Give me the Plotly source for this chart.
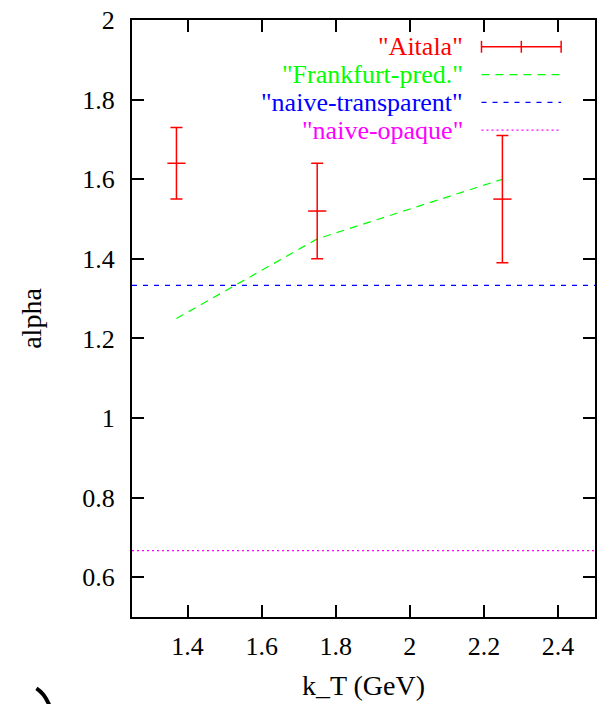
import plotly.graph_objects as go

# ---- data ----
aitala_x = [1.37, 1.75, 2.25]
aitala_y = [1.64, 1.52, 1.55]
aitala_err = [0.09, 0.12, 0.16]

frank_x = [1.37, 1.75, 2.25]
frank_y = [1.25, 1.45, 1.60]

x_range = [1.25, 2.5]
y_range = [0.5, 2.0]
naive_transparent = 4.0 / 3.0
naive_opaque = 2.0 / 3.0

x_ticks = [1.4, 1.6, 1.8, 2.0, 2.2, 2.4]
x_ticklabels = ["1.4", "1.6", "1.8", "2", "2.2", "2.4"]
y_ticks = [0.6, 0.8, 1.0, 1.2, 1.4, 1.6, 1.8, 2.0]
y_ticklabels = ["0.6", "0.8", "1", "1.2", "1.4", "1.6", "1.8", "2"]

legend_names = ['"Aitala"', '"Frankfurt-pred."', '"naive-transparent"', '"naive-opaque"']
RED, GREEN, BLUE, MAG = "#ff0000", "#00ff00", "#0000ff", "#ff00ff"
legend_colors = [RED, GREEN, BLUE, MAG]

FONT = "Liberation Serif"
FS = 26
FS_TICK = 26
FS_TITLE = 28

fig = go.Figure()

fig.add_trace(go.Scatter(
    x=frank_x, y=frank_y, mode="lines",
    line=dict(color=GREEN, width=1.2, dash="8px,6px"),
    showlegend=False, hoverinfo="skip"))
fig.add_trace(go.Scatter(
    x=x_range, y=[naive_transparent] * 2, mode="lines",
    line=dict(color=BLUE, width=1.2, dash="5px,6px"),
    showlegend=False, hoverinfo="skip"))
fig.add_trace(go.Scatter(
    x=x_range, y=[naive_opaque] * 2, mode="lines",
    line=dict(color=MAG, width=1.2, dash="2px,3px"),
    showlegend=False, hoverinfo="skip"))
fig.add_trace(go.Scatter(
    x=aitala_x, y=aitala_y, mode="markers",
    marker=dict(symbol="line-ew", size=13, line=dict(color=RED, width=1.5), color=RED),
    error_y=dict(type="data", array=aitala_err, visible=True, color=RED, thickness=1.5, width=6),
    showlegend=False, hoverinfo="skip"))

# ---- manual gnuplot-style legend ----
L, R, T, B = 132, 597, 15, 617
def px(x):
    return (x - L) / (R - L)
def py(y):
    return (B - y) / (B - T)

rows = [42, 70, 98, 126]
text_right = 466
s0, s1 = 483, 563
for name, col, yy in zip(legend_names, legend_colors, rows):
    fig.add_annotation(xref="paper", yref="paper", x=px(text_right), y=py(yy),
                       text=name, showarrow=False, xanchor="right", yanchor="middle",
                       font=dict(family=FONT, size=FS, color=col))
# Aitala sample
fig.add_shape(type="line", xref="paper", yref="paper", x0=px(s0), x1=px(s1), y0=py(42), y1=py(42),
              line=dict(color=RED, width=1.5))
for xx in (s0, s1):
    fig.add_shape(type="line", xref="paper", yref="paper", x0=px(xx), x1=px(xx), y0=py(36), y1=py(48),
                  line=dict(color=RED, width=1.5))
fig.add_shape(type="line", xref="paper", yref="paper", x0=px(523), x1=px(523), y0=py(36), y1=py(48),
              line=dict(color=RED, width=1.5))
fig.add_shape(type="line", xref="paper", yref="paper", x0=px(s0), x1=px(s1), y0=py(70), y1=py(70),
              line=dict(color=GREEN, width=1.2, dash="8px,6px"))
fig.add_shape(type="line", xref="paper", yref="paper", x0=px(s0), x1=px(s1), y0=py(98), y1=py(98),
              line=dict(color=BLUE, width=1.2, dash="5px,6px"))
fig.add_shape(type="line", xref="paper", yref="paper", x0=px(s0), x1=px(s1), y0=py(126), y1=py(126),
              line=dict(color=MAG, width=1.2, dash="2px,3px"))

# stray glyph fragment at bottom-left
fig.add_shape(type="path", xref="paper", yref="paper",
              path=f"M {px(36)},{py(689)} Q {px(44)},{py(694)} {px(49)},{py(706)}",
              line=dict(color="black", width=4))

axis_common = dict(showline=True, linecolor="black", linewidth=2, mirror="ticks",
                   ticks="inside", ticklen=12, tickwidth=2, tickcolor="black",
                   showgrid=False, zeroline=False,
                   tickfont=dict(family=FONT, size=FS_TICK, color="black"))

fig.update_xaxes(range=x_range, tickvals=x_ticks, ticktext=x_ticklabels, ticklabelstandoff=5,
                 title=dict(text="k_T (GeV)", font=dict(family=FONT, size=FS_TITLE, color="black"), standoff=15),
                 **axis_common)
fig.update_yaxes(range=y_range, tickvals=y_ticks, ticktext=y_ticklabels, ticklabelstandoff=10,
                 title=dict(text="alpha", font=dict(family=FONT, size=FS_TITLE, color="black"), standoff=32),
                 **axis_common)

fig.update_layout(width=603, height=704, plot_bgcolor="white", paper_bgcolor="white",
                  font=dict(family=FONT),
                  margin=dict(l=L, r=603 - R, t=T, b=704 - B), showlegend=False)

fig.write_html("out.html")
